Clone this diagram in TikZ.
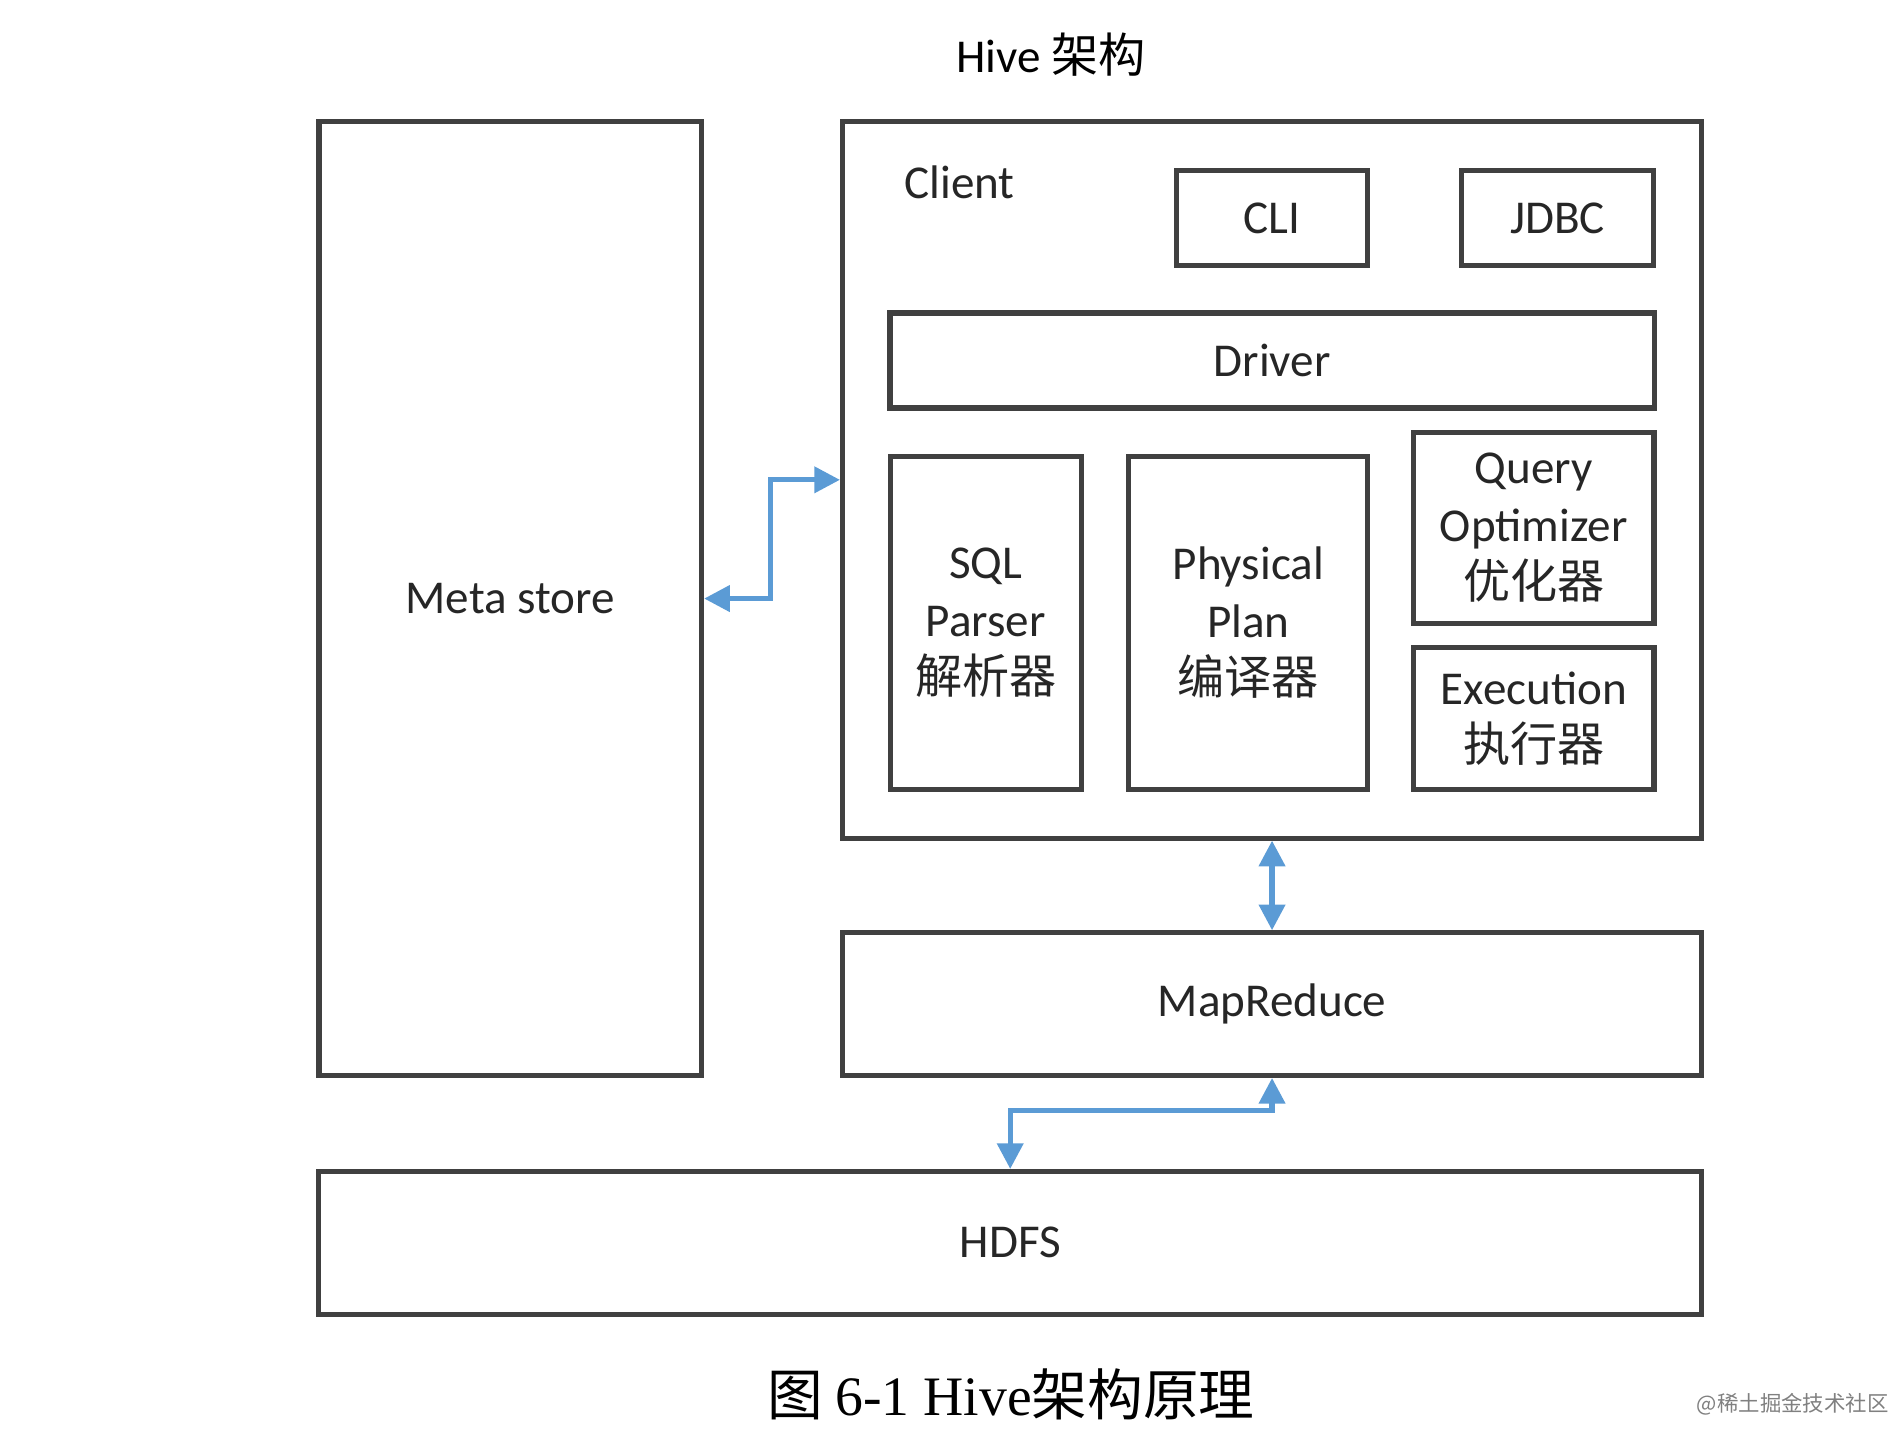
\documentclass[tikz,border=0pt]{standalone}
\usepackage{fontspec}
\setmainfont{Carlito}
\newfontfamily\cjk{Noto Sans CJK SC}
\newfontfamily\serifcap{Liberation Serif}
\usetikzlibrary{arrows.meta}
\begin{document}
\begin{tikzpicture}[x=0.01cm,y=-0.01cm,
  box/.style={draw=black!75,line width=1.2pt,inner sep=0pt,align=center,font=\fontsize{11}{13.4}\selectfont,text=black!85},
  arr/.style={draw={rgb,255:red,91;green,155;blue,213},line width=1.2pt,{Triangle[length=6pt,width=6pt]}-{Triangle[length=6pt,width=6pt]}}]
\useasboundingbox (0,0) rectangle (1556,1183);
\node[font=\fontsize{11}{13}\selectfont] (title) at (863,45) {Hive {\cjk 架构}};
\node[box,minimum width=3.14cm,minimum height=7.83cm] (ms) at (419,491.5) {Meta store};
\node[box,minimum width=7.05cm,minimum height=5.88cm] (client) at (1044.5,394) {};
\node[font=\fontsize{11}{13}\selectfont,text=black!85] (cl) at (788,150) {Client};
\node[box,minimum width=1.57cm,minimum height=0.78cm] (cli) at (1044.5,179) {CLI};
\node[box,minimum width=1.58cm,minimum height=0.78cm] (jdbc) at (1279,179) {JDBC};
\node[box,minimum width=6.27cm,minimum height=0.78cm] (drv) at (1044.5,296) {Driver};
\node[box,minimum width=1.57cm,minimum height=2.73cm] (sql) at (809.5,511.5) {SQL\\Parser\\{\cjk 解析器}};
\node[box,minimum width=1.96cm,minimum height=2.73cm] (pp) at (1025,511.5) {Physical\\Plan\\{\cjk 编译器}};
\node[box,minimum width=1.97cm,minimum height=1.57cm] (qo) at (1259.5,433.5) {Query\\Optimizer\\{\cjk 优化器}};
\node[box,minimum width=1.97cm,minimum height=1.16cm] (ex) at (1259.5,590) {Execution\\{\cjk 执行器}};
\node[box,minimum width=7.05cm,minimum height=1.17cm] (mr) at (1044.5,824.5) {MapReduce};
\node[box,minimum width=11.35cm,minimum height=1.17cm] (hdfs) at (829.5,1020.5) {HDFS};
\node[font=\fontsize{13}{15}\selectfont] (cap) at (830,1145) {{\cjk 图} {\serifcap 6-1 Hive}{\cjk 架构原理}};
\node[font=\fontsize{5}{6}\selectfont,text=black!50] (wm) at (1472,1153) {{\cjk @稀土掘金技术社区}};
\coordinate (a1) at (633,491.5);
\coordinate (a2) at (633,394);
\draw[arr] (ms.east) -- (a1) -- (a2) -- (client.west);
\draw[arr] (client.south) -- (mr.north);
\coordinate (b1) at (1044.5,912);
\coordinate (b2) at (829.5,912);
\draw[arr] (mr.south) -- (b1) -- (b2) -- (hdfs.north);
\end{tikzpicture}
\end{document}
